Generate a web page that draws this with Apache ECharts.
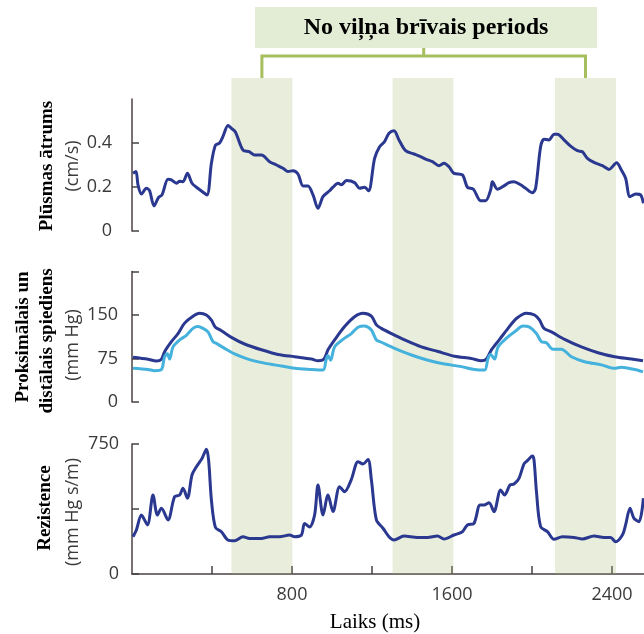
<!DOCTYPE html>
<html>
<head>
<meta charset="utf-8">
<script src="https://cdn.jsdelivr.net/npm/echarts@6/dist/echarts.min.js"></script>
<style>
  html, body { margin: 0; padding: 0; background: #fff; }
  #main { width: 644px; height: 634px; }
</style>
</head>
<body>
<div id="main"></div>
<script>
// 数据 [时间ms, 数值]
var flowPoints = [[5,0.262],[20,0.27],[30,0.21],[47,0.168],[72,0.194],[88,0.183],[110,0.114],[133,0.153],[150,0.164],[180,0.235],[197,0.232],[222,0.217],[238,0.226],[255,0.224],[277,0.262],[300,0.217],[322,0.199],[347,0.182],[375,0.164],[397,0.308],[417,0.39],[438,0.40],[455,0.43],[480,0.48],[497,0.467],[517,0.45],[555,0.368],[588,0.36],[613,0.345],[647,0.345],[688,0.315],[722,0.30],[755,0.285],[780,0.27],[805,0.274],[830,0.259],[855,0.205],[880,0.205],[905,0.164],[930,0.103],[955,0.156],[988,0.183],[1005,0.199],[1030,0.217],[1047,0.21],[1072,0.229],[1113,0.22],[1138,0.194],[1163,0.199],[1183,0.183],[1213,0.33],[1238,0.383],[1262,0.405],[1285,0.444],[1310,0.456],[1335,0.414],[1368,0.365],[1410,0.35],[1443,0.338],[1468,0.327],[1502,0.315],[1535,0.297],[1560,0.308],[1585,0.292],[1610,0.262],[1652,0.255],[1677,0.199],[1707,0.19],[1743,0.138],[1768,0.138],[1793,0.186],[1802,0.224],[1827,0.19],[1860,0.205],[1885,0.22],[1910,0.224],[1943,0.21],[1968,0.194],[2002,0.174],[2018,0.194],[2043,0.383],[2060,0.417],[2085,0.414],[2110,0.44],[2127,0.44],[2160,0.414],[2193,0.386],[2227,0.365],[2252,0.36],[2277,0.33],[2310,0.312],[2352,0.297],[2385,0.28],[2423,0.31],[2447,0.277],[2468,0.24],[2490,0.156],[2518,0.168],[2543,0.164],[2557,0.126]];

var proximalPoints = [[5,77],[80,73.6],[122,70.7],[147,73.6],[163,86.7],[197,104],[230,118],[263,136],[305,148],[338,153],[372,150],[397,141],[417,129],[447,123],[497,111.5],[563,100],[647,90],[730,82],[813,78],[897,74],[930,71],[960,74],[980,90],[1013,107],[1063,130],[1113,147],[1155,153],[1197,148],[1222,133],[1247,127],[1297,118],[1363,107],[1447,95],[1530,87],[1613,79],[1697,75],[1747,71],[1772,74],[1797,90],[1838,108],[1880,127],[1922,144],[1972,153],[2013,150],[2038,141],[2060,127],[2097,121],[2163,108],[2247,95],[2330,85],[2413,78],[2497,74],[2555,71]];

var distalPoints = [[5,58],[80,56],[113,54],[147,56],[163,78],[177,83],[188,74],[205,95],[238,107],[272,115],[305,127],[330,130],[355,127],[380,121],[405,104],[422,101],[463,92.5],[513,83],[580,74],[663,67],[747,62],[813,58],[897,56],[955,55],[972,75],[980,80],[993,72],[1013,95],[1055,108],[1097,118],[1130,129],[1163,131],[1197,124],[1222,107],[1247,103],[1313,92.5],[1397,81],[1480,72],[1563,65.5],[1647,61],[1713,56],[1763,55],[1780,75],[1793,82],[1813,74],[1830,95],[1872,110],[1913,121],[1955,131],[1988,129],[2022,118],[2047,104],[2072,102],[2105,91],[2147,91],[2197,78],[2263,69.5],[2347,64],[2413,58],[2447,60],[2513,56],[2555,52]];

var resistancePoints = [[5,215],[22,254],[47,340],[77,283],[105,456],[127,340],[147,379],[180,312],[213,446],[238,456],[255,494],[277,437],[300,571],[322,619],[350,667],[372,719],[383,658],[397,427],[417,269],[447,244],[480,196],[513,192],[555,215],[588,205],[647,205],[688,215],[738,215],[788,225],[813,215],[847,225],[863,292],[888,271],[913,340],[930,513],[955,340],[980,456],[1005,360],[1038,504],[1063,475],[1097,546],[1130,648],[1155,635],[1180,661],[1197,542],[1222,312],[1255,264],[1285,215],[1310,196],[1360,219],[1427,211],[1477,211],[1527,219],[1560,202],[1610,225],[1652,244],[1677,283],[1710,292],[1740,398],[1760,398],[1785,411],[1810,360],[1843,485],[1863,456],[1890,513],[1910,519],[1935,552],[1960,635],[1977,654],[2002,681],[2010,658],[2023,465],[2043,273],[2077,244],[2110,200],[2152,215],[2210,211],[2252,202],[2310,219],[2360,211],[2393,211],[2418,186],[2452,225],[2468,283],[2490,379],[2510,321],[2535,302],[2557,437]];

// 无波期间
var quietBands = [[497, 802], [1303, 1607], [2115, 2420]];
var xTicks = [400, 800, 1200, 1600, 2000, 2400];
var xLabels = [800, 1600, 2400];

var navy = '#2a3890';
var lightBlue = '#44b2dc';
var axisColor = '#4a4242';
var labelColor = '#3a3a3a';
var sansFont = 'Open Sans';
var serifFont = 'Liberation Serif';

var myChart = echarts.init(document.getElementById('main'));

function hiddenX(idx) {
    return { type: 'value', gridIndex: idx, min: 0, max: 2560, show: false };
}
function yAx(idx, max, off, ticks, labels, margin) {
    return {
        type: 'value', gridIndex: idx, min: 0, max: max, offset: off,
        axisLine: { show: true, lineStyle: { color: axisColor, width: 1.5 } },
        axisTick: { show: true, inside: true, length: 7, customValues: ticks, lineStyle: { color: axisColor, width: 1.5 } },
        axisLabel: { customValues: labels, margin: margin, color: labelColor, fontFamily: sansFont, fontSize: 18 },
        splitLine: { show: false }
    };
}
function lineSeries(idx, data, color) {
    return {
        type: 'line', xAxisIndex: idx, yAxisIndex: idx, data: data,
        showSymbol: false, smooth: 0.3, z: 2,
        lineStyle: { color: color, width: 3 }
    };
}

var option = {
    animation: false,
    grid: [
        { left: 132, right: 0, top: 99, height: 132 },
        { left: 132, right: 0, top: 271.5, height: 130.5 },
        { left: 132, right: 0, top: 444, height: 130 },
        { left: 132, right: 0, top: 78, bottom: 60 }
    ],
    xAxis: [
        hiddenX(0),
        hiddenX(1),
        {
            type: 'value', gridIndex: 2, min: 0, max: 2560,
            axisLine: { lineStyle: { color: axisColor, width: 1.5 } },
            axisTick: { inside: true, length: 8, customValues: xTicks, lineStyle: { color: axisColor, width: 1.5 } },
            axisLabel: {
                customValues: xLabels, margin: 12, color: labelColor, fontFamily: sansFont, fontSize: 18,
                formatter: function(v) { return String(v); }
            },
            splitLine: { show: false }
        },
        hiddenX(3)
    ],
    yAxis: [
        yAx(0, 0.6, 12, [0, 0.2, 0.4], [0, 0.2, 0.4], 8),
        yAx(1, 225, 9, [0, 75, 150, 225], [0, 75, 150], 5),
        yAx(2, 750, 8, [0, 375, 750], [0, 750], 5),
        { type: 'value', gridIndex: 3, min: 0, max: 1, show: false }
    ],
    series: [
        lineSeries(0, flowPoints, navy),
        lineSeries(1, proximalPoints, navy),
        lineSeries(1, distalPoints, lightBlue),
        lineSeries(2, resistancePoints, navy),
        {
            type: 'line', xAxisIndex: 3, yAxisIndex: 3, data: [], z: 5,
            markArea: {
                silent: true,
                itemStyle: { color: 'rgba(167,187,115,0.25)' },
                data: quietBands.map(function(b) { return [{ xAxis: b[0] }, { xAxis: b[1] }]; })
            }
        }
    ]
};
myChart.setOption(option);

// 标题框和括号
var xa = myChart.convertToPixel({ xAxisIndex: 3 }, (quietBands[0][0] + quietBands[0][1]) / 2);
var xb = myChart.convertToPixel({ xAxisIndex: 3 }, (quietBands[2][0] + quietBands[2][1]) / 2);
var xm = (xa + xb) / 2;
function vText(x, y, txt, font, color) {
    return {
        type: 'text', x: x, y: y, rotation: Math.PI / 2,
        style: { text: txt, font: font, fill: color, textAlign: 'center', textVerticalAlign: 'middle' }
    };
}
var boldSerif = 'bold 19px "' + serifFont + '"';
var unitFont = '18px "' + sansFont + '"';
myChart.setOption({
    graphic: [
        { type: 'rect', shape: { x: 255, y: 7, width: 342, height: 41 }, style: { fill: '#e3edd6' } },
        { type: 'text', x: 426, y: 28, style: { text: 'No viļņa brīvais periods', font: 'bold 24px "' + serifFont + '"', fill: '#000', textAlign: 'center', textVerticalAlign: 'middle' } },
        { type: 'polyline', shape: { points: [[xa, 78], [xa, 56], [xb, 56], [xb, 78]] }, style: { stroke: '#a6be5e', lineWidth: 3, fill: null } },
        { type: 'line', shape: { x1: xm, y1: 48, x2: xm, y2: 56 }, style: { stroke: '#a6be5e', lineWidth: 3 } },
        vText(47, 166, 'Plūsmas ātrums', boldSerif, '#000'),
        vText(73, 166, '(cm/s)', unitFont, labelColor),
        vText(23, 337, 'Proksimālais un', boldSerif, '#000'),
        vText(47, 341, 'distālais spiediens', boldSerif, '#000'),
        vText(73, 345, '(mm Hg)', unitFont, labelColor),
        vText(45, 508, 'Rezistence', boldSerif, '#000'),
        vText(73, 512, '(mm Hg s/m)', unitFont, labelColor),
        { type: 'text', x: 375, y: 622, style: { text: 'Laiks (ms)', font: '21px "' + serifFont + '"', fill: '#000', textAlign: 'center', textVerticalAlign: 'middle' } }
    ]
});

window.addEventListener("resize", function() {
    myChart.resize();
});
</script>
</body>
</html>
